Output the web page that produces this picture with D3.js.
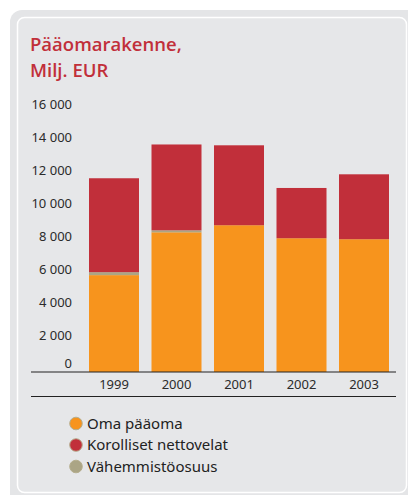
<!DOCTYPE html>
<html>
<head>
<meta charset="utf-8">
<script src="https://cdn.jsdelivr.net/npm/d3@7"></script>
<style>
  body { margin: 0; background: #fff; }
  svg { display: block; }
</style>
</head>
<body>
<svg id="chart" width="408" height="495"></svg>
<script>
// data (Milj. EUR)
var years = ["1999", "2000", "2001", "2002", "2003"]
var omaPaaoma = [5880, 8480, 8910, 8120, 8060]
var vahemmistoosuus = [180, 120, 0, 0, 0]
var nettovelat = [5700, 5210, 4850, 3050, 3940]
var yTicks = [0, 2000, 4000, 6000, 8000, 10000, 12000, 14000, 16000]
var seriesNames = ["Oma pääoma", "Vähemmistöosuus", "Korolliset nettovelat"]
var legendNames = ["Oma pääoma", "Korolliset nettovelat", "Vähemmistöosuus"]
var colors = ["#f7941d", "#aba585", "#c12f3a"]

var svg = d3.select("#chart")

// panel background
svg.append("rect")
  .attr("x", 10).attr("y", 10)
  .attr("width", 412).attr("height", 500)
  .attr("rx", 12)
  .attr("fill", "#e4e5e7")
svg.append("rect")
  .attr("x", 17.5).attr("y", 17.5)
  .attr("width", 389).attr("height", 475)
  .attr("rx", 7)
  .attr("fill", "#e6e7e9")
  .attr("stroke", "#fff")
  .attr("stroke-width", 1.5)

// title
var title = svg.append("text")
  .attr("x", 30).attr("y", 51)
  .attr("fill", "#c12f3a")
  .style("font-family", "'Open Sans', sans-serif")
  .style("font-weight", 600)
  .style("font-size", "18.5px")
title.append("tspan").attr("x", 30).attr("y", 51).text("Pääomarakenne,")
title.append("tspan").attr("x", 30).attr("y", 77).text("Milj. EUR")

var rows = years.map(function (y, i) {
  return { year: y, "Oma pääoma": omaPaaoma[i], "Vähemmistöosuus": vahemmistoosuus[i], "Korolliset nettovelat": nettovelat[i] }
})
var stacked = d3.stack().keys(seriesNames)(rows)

var x = d3.scaleBand()
  .domain(years)
  .range([82.75, 395.25])
  .paddingInner(0.2)
  .paddingOuter(0.1)

var y = d3.scaleLinear()
  .domain([0, 16000])
  .range([372, 108.4])

var color = d3.scaleOrdinal().domain(seriesNames).range(colors)

var fiLocale = d3.formatLocale({ decimal: ",", thousands: " ", grouping: [3], currency: ["", " €"] })
var fmt = fiLocale.format(",d")

// y axis labels
var yAxis = svg.append("g")
  .attr("transform", "translate(72,0)")
  .call(d3.axisLeft(y).tickValues(yTicks).tickSize(0).tickPadding(0).tickFormat(fmt))
yAxis.select(".domain").remove()
yAxis.selectAll("text")
  .attr("y", function (d) { return d === 0 ? -8.5 : -3.7 })
  .attr("fill", "#2b2b2b")
  .style("font-family", "'Noto Sans', sans-serif")
  .style("font-size", "13px")

// bars
svg.append("g")
  .selectAll("g")
  .data(stacked)
  .join("g")
  .attr("fill", function (d) { return color(d.key) })
  .selectAll("rect")
  .data(function (d) { return d })
  .join("rect")
  .attr("x", function (d) { return x(d.data.year) })
  .attr("width", x.bandwidth())
  .attr("y", function (d) { return y(d[1]) })
  .attr("height", function (d) { return y(d[0]) - y(d[1]) })

// baseline and line under the years
svg.append("line")
  .attr("x1", 31).attr("x2", 396)
  .attr("y1", y(0)).attr("y2", y(0))
  .attr("stroke", "#222").attr("stroke-width", 1.2)
svg.append("line")
  .attr("x1", 31).attr("x2", 396)
  .attr("y1", 396.5).attr("y2", 396.5)
  .attr("stroke", "#222").attr("stroke-width", 1.2)

var xAxis = svg.append("g")
  .attr("transform", "translate(0," + y(0) + ")")
  .call(d3.axisBottom(x).tickSize(0).tickPadding(8))
xAxis.select(".domain").remove()
xAxis.selectAll("text")
  .attr("fill", "#2b2b2b")
  .style("font-family", "'Noto Sans', sans-serif")
  .style("font-size", "13px")

// legend
var legend = svg.append("g")
  .selectAll("g")
  .data(legendNames)
  .join("g")
  .attr("transform", function (d, i) { return "translate(76," + (423.5 + i * 21.5) + ")" })
legend.append("circle")
  .attr("r", 6.3)
  .attr("fill", function (d) { return color(d) })
  .attr("stroke", "#b5ae8e")
  .attr("stroke-width", 1)
legend.append("text")
  .attr("x", 11)
  .attr("dy", "0.35em")
  .attr("fill", "#222")
  .style("font-family", "'Noto Sans', sans-serif")
  .style("font-size", "15px")
  .text(function (d) { return d })
</script>
</body>
</html>
